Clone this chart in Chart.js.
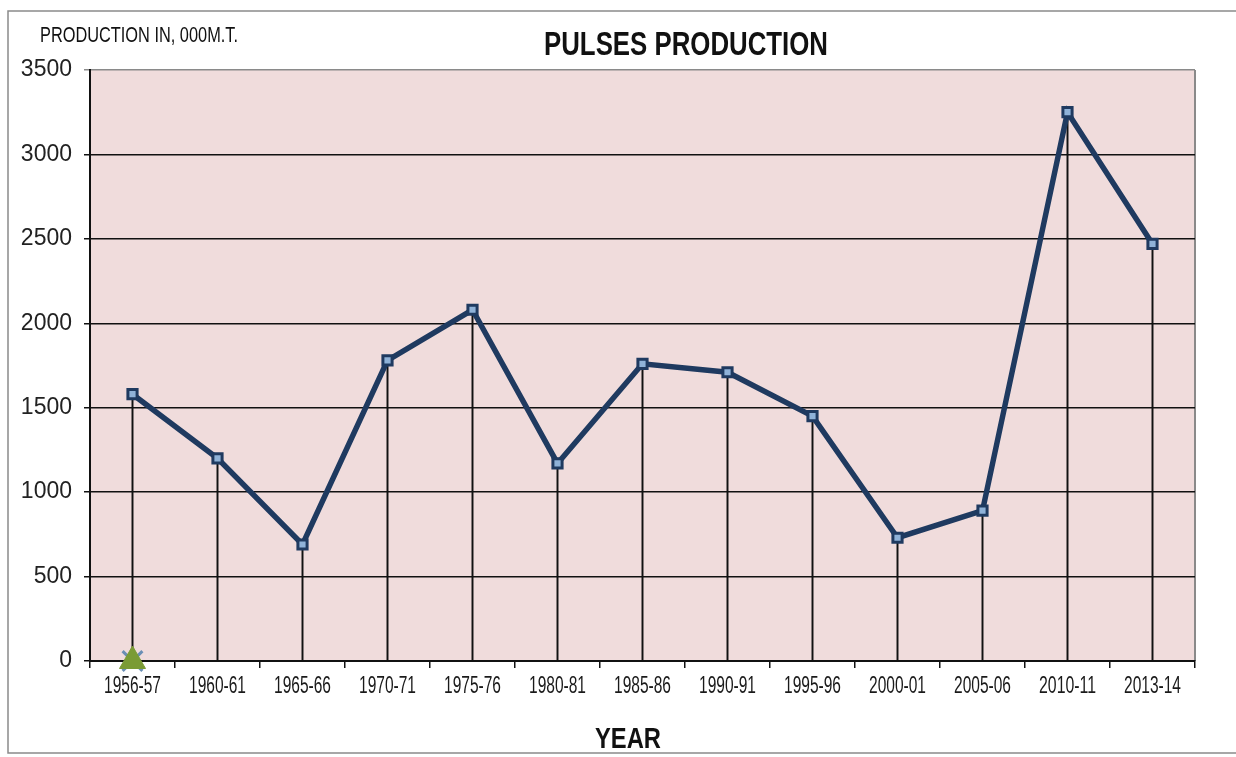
<!DOCTYPE html>
<html lang="en">
<head>
    <meta charset="UTF-8">
    <title>Pulses Production</title>
    <script src="https://cdn.jsdelivr.net/npm/chart.js@4"></script>
</head>
<body style="margin: 0; background-color: #ffffff;">
    <div style="width: 1236px; height: 757px;">
       <canvas id="myChart" width="1236" height="757"></canvas>
    </div>
</body>
<script>
    // data (production in 000 M.T.)
    let years = ['1956-57', '1960-61', '1965-66', '1970-71', '1975-76', '1980-81', '1985-86',
                 '1990-91', '1995-96', '2000-01', '2005-06', '2010-11', '2013-14']
    let production = [1580, 1200, 690, 1780, 2080, 1170, 1760, 1710, 1450, 730, 890, 3250, 2470]
    // stray zero points sitting on the first category
    let strayTriangle = [0, null, null, null, null, null, null, null, null, null, null, null, null]
    let strayCross = [0, null, null, null, null, null, null, null, null, null, null, null, null]
    let yTicks = [0, 500, 1000, 1500, 2000, 2500, 3000, 3500]

    const SANS = "'Liberation Sans', Arial, sans-serif"

    // draw text squeezed sideways to a given width (the original uses a narrow face)
    function narrowText(c, text, x, y, font, width, align) {
        c.font = font
        let w = c.measureText(text).width
        let k = width / w
        c.save()
        c.translate(x, y)
        c.scale(k, 1)
        c.textAlign = align
        c.fillText(text, 0, 0)
        c.restore()
    }

    const frame = {
        id: 'frame',
        beforeDraw(chart) {
            const c = chart.ctx, a = chart.chartArea
            c.save()
            c.fillStyle = '#ffffff'
            c.fillRect(0, 0, chart.width, chart.height)
            // outer box
            c.strokeStyle = '#8a8a8a'
            c.lineWidth = 1.5
            c.strokeRect(8, 11, 1240, 742)
            // plot background
            c.fillStyle = '#f0dcdc'
            c.fillRect(a.left, a.top, a.right - a.left, a.bottom - a.top)
            // right edge of the plot
            c.strokeStyle = '#8a8a8a'
            c.lineWidth = 2
            c.beginPath()
            c.moveTo(a.right, a.top)
            c.lineTo(a.right, a.bottom)
            c.stroke()
            c.restore()
        },
        afterDraw(chart) {
            const c = chart.ctx
            const xs = chart.scales.x
            c.save()
            c.fillStyle = '#111'
            c.textBaseline = 'alphabetic'
            narrowText(c, 'PRODUCTION IN, 000M.T.', 40, 42, '22px ' + SANS, 198, 'left')
            narrowText(c, 'PULSES PRODUCTION', 686, 55, 'bold 33px ' + SANS, 284, 'center')
            narrowText(c, 'YEAR', 628, 748, 'bold 29px ' + SANS, 66, 'center')
            // category labels
            c.fillStyle = '#1a1a1a'
            xs.ticks.forEach((t, i) => {
                narrowText(c, years[i], xs.getPixelForTick(i), 693, '23px ' + SANS, 57, 'center')
            })
            c.restore()
        }
    }

    let ctx = document.getElementById('myChart').getContext('2d')
    let chart = new Chart(ctx, {
        data: {
            labels: years,
            datasets: [{
                type: 'line',
                label: 'Production',
                data: production,
                borderColor: '#1f3a60',
                borderWidth: 5.5,
                pointStyle: 'rect',
                pointRadius: 6.5,
                pointBackgroundColor: '#8fb2d8',
                pointBorderColor: '#1f3a60',
                pointBorderWidth: 3,
                order: 1
            }, {
                type: 'bar',
                label: 'Drop',
                data: production,
                backgroundColor: '#111111',
                barThickness: 1.3,
                order: 3
            }, {
                type: 'line',
                label: 'Cross',
                data: strayCross,
                showLine: false,
                pointStyle: 'crossRot',
                pointRadius: 14,
                pointBorderColor: '#6a8fb5',
                pointBorderWidth: 3,
                order: 2,
                clip: false
            }, {
                type: 'line',
                label: 'Triangle',
                data: strayTriangle,
                showLine: false,
                pointStyle: 'triangle',
                pointRadius: 15,
                pointBackgroundColor: '#7a9b35',
                pointBorderColor: '#7a9b35',
                order: 0,
                clip: false
            }]
        },
        options: {
            responsive: false,
            animation: false,
            layout: { padding: { top: 70, right: 41, left: 0, bottom: 0 } },
            plugins: {
                legend: { display: false },
                title: { display: false },
                tooltip: { enabled: false }
            },
            scales: {
                x: {
                    offset: true,
                    grid: {
                        offset: true,
                        drawOnChartArea: false,
                        drawTicks: true,
                        tickLength: 7,
                        color: '#111',
                        lineWidth: 1.5
                    },
                    border: { color: '#111', width: 2 },
                    ticks: {
                        color: 'rgba(0,0,0,0)',
                        padding: 4,
                        maxRotation: 0,
                        autoSkip: false,
                        font: { family: SANS, size: 12 }
                    },
                    afterFit(scale) { scale.height = 96 }
                },
                y: {
                    min: 0,
                    max: 3500,
                    afterBuildTicks(scale) { scale.ticks = yTicks.map(v => ({ value: v })) },
                    grid: {
                        color: (c) => c.tick && c.tick.value === 3500 ? '#8a8a8a' : '#111',
                        lineWidth: 1.5,
                        tickLength: 6
                    },
                    border: { color: '#111', width: 2 },
                    ticks: {
                        color: '#222',
                        padding: 12,
                        callback: (v) => String(v),
                        font: { family: SANS, size: 23 }
                    },
                    afterFit(scale) { scale.width = 90 }
                }
            }
        },
        plugins: [frame]
    })
</script>
</html>
